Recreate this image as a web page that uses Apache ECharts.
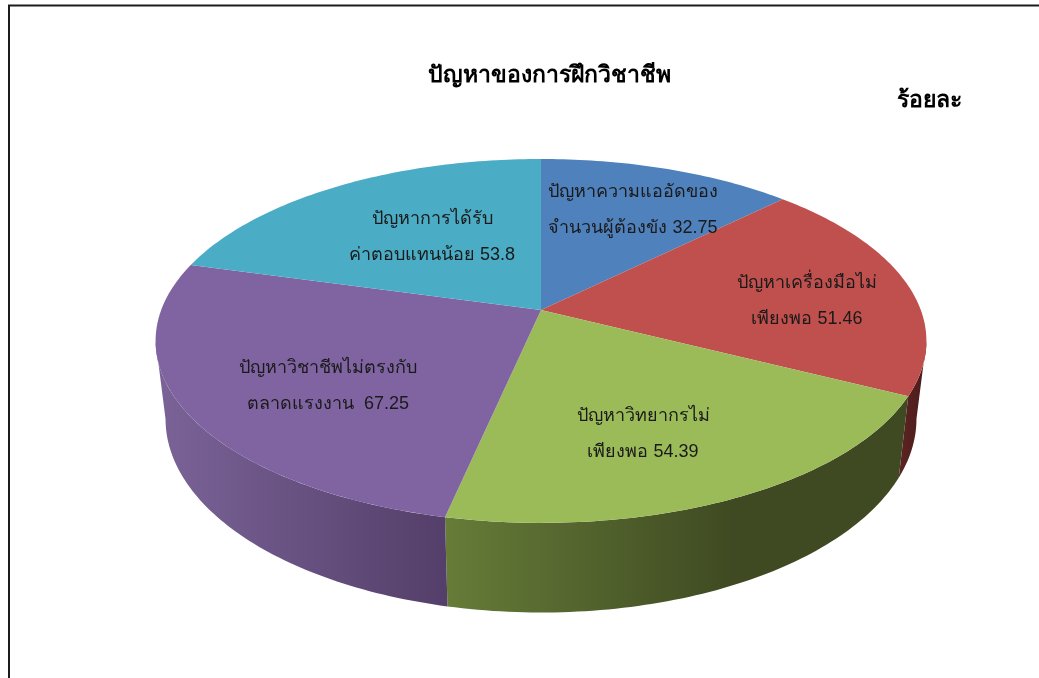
<!DOCTYPE html>
<html><head><meta charset="utf-8">
<style>html,body{margin:0;padding:0;background:#fff}#c{width:1039px;height:678px}</style>
<script src="https://cdn.jsdelivr.net/npm/echarts@6/dist/echarts.min.js"></script>
</head><body><div id="c"></div>
<script>
const categories = ['ปัญหาความแออัดของ\nจำนวนผู้ต้องขัง ','ปัญหาเครื่องมือไม่\nเพียงพอ ','ปัญหาวิทยากรไม่\nเพียงพอ ','ปัญหาวิชาชีพไม่ตรงกับ\nตลาดแรงงาน  ','ปัญหาการได้รับ\nค่าตอบแทนน้อย '];
const values = [32.75, 51.46, 54.39, 67.25, 53.8];
const topColors = ['#4f81bd','#c0504d','#9bbb59','#8064a2','#4bacc6'];
const sideColors = [['#3a5f8c','#2a4566'],['#5c2422','#4a1c1b'],['#667c38','#3f4a22'],['#7b6398','#533f69'],['#37808f','#2a6270']];
const titleText = 'ปัญหาของการฝึกวิชาชีพ';
const unitText = 'ร้อยละ';
const fontFamily = '"Liberation Sans","Noto Sans",sans-serif';

// Projection of the tilted disc: upper face and lower rim
const upperFace = {cy:310, a:176.7, b:379.8};
const lowerRim = {cy:386, a:188, b:370};
const cx = 541, k = -0.17;
// Label centres relative to the apex
const labelOffsets = [[92,-100],[266,-9],[102,124],[-213,76],[-109,-73]];
const total = values.reduce((s,v)=>s+v,0);
const D2R = Math.PI/180;
function project(deg, face){
  const t = deg*D2R, x = Math.sin(t), y = -Math.cos(t), w = 1+k*y;
  return [cx + face.b*x/w, face.cy + face.a*y/w];
}
function arc(a0, a1, face){
  const n = Math.max(2, Math.ceil(Math.abs(a1-a0))), pts=[];
  for(let i=0;i<=n;i++) pts.push(project(a0+(a1-a0)*i/n, face));
  return pts;
}
const FRONT0 = 99.8, FRONT1 = 260.2;
function renderItem(params, api){
  const i = params.dataIndex;
  let start = 0;
  for(let j=0;j<i;j++) start += values[j]/total*360;
  const end = start + api.value(0)/total*360;
  const children = [];
  const s0 = Math.max(start,FRONT0), s1 = Math.min(end,FRONT1);
  if(s1 > s0){
    const poly = arc(s0,s1,upperFace).concat(arc(s1,s0,lowerRim));
    const xs = poly.map(p=>p[0]);
    const x0 = Math.min.apply(null,xs), x1 = Math.max.apply(null,xs);
    const mid = i===2 ? 0.62 : 1;
    children.push({type:'polygon', z2:1, shape:{points:poly}, style:{
      fill:{type:'linear',x:x0,y:0,x2:x1,y2:0,global:true,colorStops:[
        {offset:0,color:sideColors[i][0]},{offset:mid,color:sideColors[i][1]},{offset:1,color:sideColors[i][1]}]}
    }});
  }
  children.push({type:'polygon', z2:2, shape:{points:[[cx,upperFace.cy]].concat(arc(start,end,upperFace))},
    style:{fill:topColors[i]}});
  children.push({type:'text', z2:3, x:cx+labelOffsets[i][0], y:upperFace.cy+labelOffsets[i][1],
    style:{text:categories[i]+api.value(0), fontFamily:fontFamily, fontSize:18, lineHeight:36,
      fill:'#1a1a1a', align:'center', verticalAlign:'middle'}});
  return {type:'group', children};
}
const chart = echarts.init(document.getElementById('c'), null, {renderer:'canvas'});
chart.setOption({
  animation:false,
  backgroundColor:'#fff',
  title:[
    {text:titleText,left:544.5,top:59,textAlign:'center',textStyle:{fontFamily,fontSize:23,fontWeight:'bold',color:'#000'}},
    {text:unitText,left:924.5,top:84,textAlign:'center',textStyle:{fontFamily,fontSize:23,fontWeight:'bold',color:'#000'}}
  ],
  graphic:[{type:'polyline',silent:true,shape:{points:[[9,678],[9,5.5],[1039,5.5]]},style:{stroke:'#1c1c1c',lineWidth:2,fill:null}}],
  series:[{type:'custom',coordinateSystem:'none',renderItem,data:values.map(v=>[v])}]
});
</script></body></html>
